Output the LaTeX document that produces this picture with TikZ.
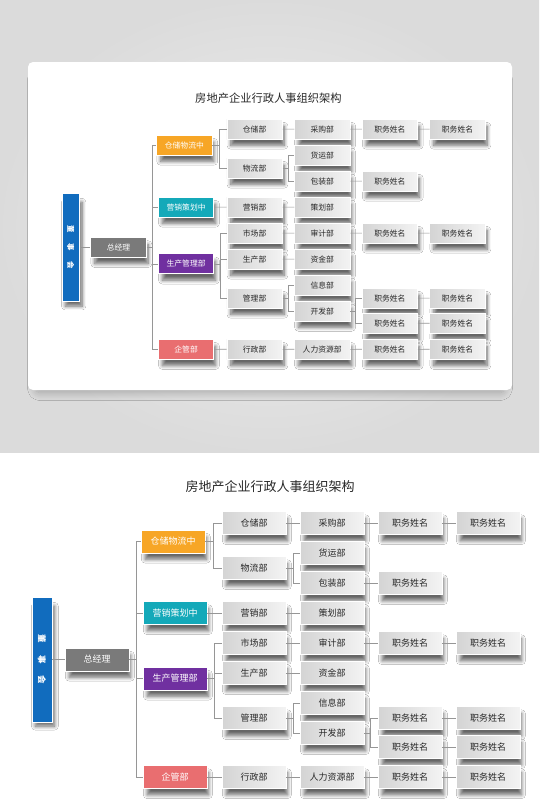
\documentclass[tikz,border=0pt]{standalone}
\usepackage{fontspec}
\setmainfont{Noto Sans CJK SC}
\usetikzlibrary{shadows.blur}

\definecolor{boardblue}{RGB}{17,108,190}
\definecolor{gmgray}{RGB}{122,122,122}
\definecolor{logorange}{RGB}{247,166,38}
\definecolor{mktteal}{RGB}{20,169,185}
\definecolor{prodpurple}{RGB}{112,48,160}
\definecolor{admsalmon}{RGB}{233,110,112}
\definecolor{deptdark}{RGB}{212,212,212}
\definecolor{deptlight}{RGB}{243,243,243}
\definecolor{linkgray}{RGB}{150,150,150}
\definecolor{textgray}{RGB}{40,40,40}

\tikzset{
  box/.style={minimum width=64pt, minimum height=23pt, inner sep=0pt,
    font=\fontsize{9}{10}\selectfont,
    blur shadow={shadow xshift=3pt, shadow yshift=-7pt, shadow scale=0.96,
      shadow blur radius=4pt, shadow blur steps=8, shadow opacity=60}},
  hub/.style={box, draw=white, line width=0.8pt, fill=#1, text=white},
  dept/.style={box, draw=white, line width=0.6pt, left color=deptdark, right color=deptlight, text=textgray},
  title/.style={font=\fontsize{13}{15}\selectfont, text=textgray},
  link/.style={draw=linkgray, line width=0.6pt}
}

% one copy of the chart, in the coordinates of the lower (large) copy
\newcommand{\orgchart}{%
  \node[title] (ttl) at (270,487) {房地产企业行政人事组织架构};
  \node[hub=boardblue, minimum width=20pt, minimum height=125pt,
        font=\fontsize{8.5}{9}\selectfont\bfseries] (board) at (42,659.5)
        {\rotatebox{-90}{董\hspace{12pt}事\hspace{12pt}会}};
  \node[hub=gmgray] (gm) at (97,659.5) {总经理};

  \node[hub=logorange] (log) at (173,541.5) {仓储物流中};
  \node[hub=mktteal] (mkt) at (175,613) {营销策划中};
  \node[hub=prodpurple] (prod) at (175,678.5) {生产管理部};
  \node[hub=admsalmon] (adm) at (175,777) {企管部};

  \node[dept] (store) at (254,523) {仓储部};
  \node[dept] (flow) at (254,568) {物流部};
  \node[dept] (sales) at (254,613) {营销部};
  \node[dept] (market) at (254,643) {市场部};
  \node[dept] (make) at (254,673) {生产部};
  \node[dept] (mgmt) at (254,718) {管理部};
  \node[dept] (office) at (254,777) {行政部};

  \node[dept] (buy) at (332,523) {采购部};
  \node[dept] (ship) at (332,553) {货运部};
  \node[dept] (pack) at (332,583) {包装部};
  \node[dept] (plan) at (332,613) {策划部};
  \node[dept] (audit) at (332,643) {审计部};
  \node[dept] (fund) at (332,673) {资金部};
  \node[dept] (info) at (332,703) {信息部};
  \node[dept] (dev) at (332,733) {开发部};
  \node[dept] (hr) at (332,777) {人力资源部};

  \node[dept] (ja1) at (410,523) {职务姓名};
  \node[dept] (jb1) at (410,583) {职务姓名};
  \node[dept] (jc1) at (410,643) {职务姓名};
  \node[dept] (jd1) at (410,718) {职务姓名};
  \node[dept] (je1) at (410,747) {职务姓名};
  \node[dept] (jf1) at (410,777) {职务姓名};

  \node[dept] (ja2) at (488,523) {职务姓名};
  \node[dept] (jc2) at (488,643) {职务姓名};
  \node[dept] (jd2) at (488,718) {职务姓名};
  \node[dept] (je2) at (488,747) {职务姓名};
  \node[dept] (jf2) at (488,777) {职务姓名};

  % branches
  \draw[link] (board.east) -- (gm.west);
  \draw[link] (gm.east) -- ++(7,0) coordinate (trunk);
  \foreach \c in {log,mkt,prod,adm} \draw[link] (trunk) |- (\c.west);
  \draw[link] (log.east) -- ++(8,0) coordinate (logbus);
  \foreach \c in {store,flow} \draw[link] (logbus) |- (\c.west);
  \draw[link] (prod.east) -- ++(7,0) coordinate (prodbus);
  \foreach \c in {market,make,mgmt} \draw[link] (prodbus) |- (\c.west);
  \draw[link] (flow.east) -- ++(7,0) coordinate (flowbus);
  \foreach \c in {ship,pack} \draw[link] (flowbus) |- (\c.west);
  \draw[link] (mgmt.east) -- ++(7,0) coordinate (mgmtbus);
  \foreach \c in {info,dev} \draw[link] (mgmtbus) |- (\c.west);
  \draw[link] (dev.east) -- ++(6,0) coordinate (devbus);
  \foreach \c in {jd1,je1} \draw[link] (devbus) |- (\c.west);

  % straight rows
  \draw[link] (mkt) -- (sales);
  \draw[link] (adm) -- (office);
  \draw[link] (store) -- (buy);
  \draw[link] (buy) -- (ja1);
  \draw[link] (ja1) -- (ja2);
  \draw[link] (pack) -- (jb1);
  \draw[link] (sales) -- (plan);
  \draw[link] (market) -- (audit);
  \draw[link] (audit) -- (jc1);
  \draw[link] (jc1) -- (jc2);
  \draw[link] (make) -- (fund);
  \draw[link] (jd1) -- (jd2);
  \draw[link] (je1) -- (je2);
  \draw[link] (office) -- (hr);
  \draw[link] (hr) -- (jf1);
  \draw[link] (jf1) -- (jf2);
}

\begin{document}
\begin{tikzpicture}[x=1pt, y=-1pt]
\useasboundingbox (0,0) rectangle (539,812);

% grey backdrop and white card
\fill[white] (0,0) rectangle (539,812);
\shade[inner color=gray!12, outer color=gray!28] (0,0) rectangle (539,452);
\fill[white, rounded corners=5pt,
      blur shadow={shadow xshift=0pt, shadow yshift=-8pt, shadow scale=0.97,
        shadow blur radius=8pt, shadow blur steps=12, shadow opacity=25}]
  (28,62) rectangle (512,390);

% small copy on the card
\begin{scope}[name prefix=top-, shift={(34.4,-324.4)}, scale=0.867, transform shape]
  \orgchart
\end{scope}

% large copy
\begin{scope}[name prefix=low-]
  \orgchart
\end{scope}

\end{tikzpicture}
\end{document}
